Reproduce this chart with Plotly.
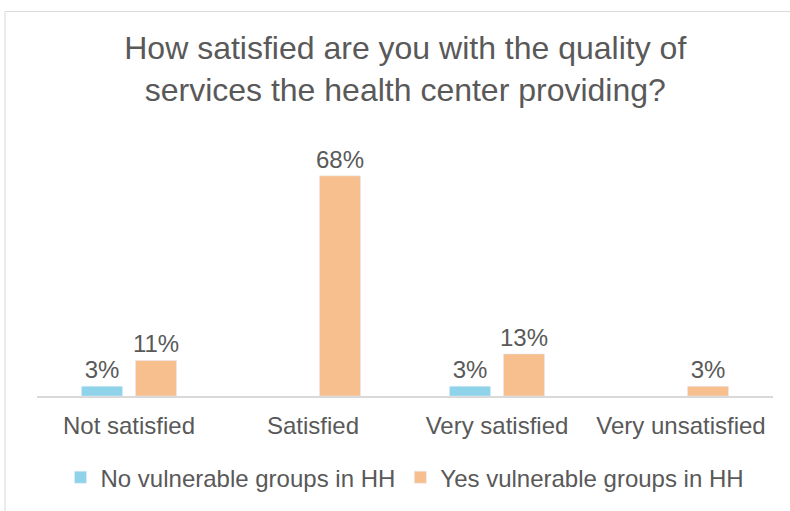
import plotly.graph_objects as go

# categories and series values (shares of respondents)
categories = ["Not satisfied", "Satisfied", "Very satisfied", "Very unsatisfied"]
no_vulnerable = [0.03, None, 0.03, None]
yes_vulnerable = [0.11, 0.68, 0.13, 0.03]
series_names = ["No vulnerable groups in HH", "Yes vulnerable groups in HH"]
title_text = "How satisfied are you with the quality of<br>services the health center providing?"

grey = "#595959"
font_family = "Liberation Sans, Arial, sans-serif"

fig = go.Figure()
fig.add_trace(go.Bar(
    x=categories, y=no_vulnerable, name=series_names[0],
    marker=dict(color="#8FD3EB"),
    texttemplate="%{y:.0%}", textposition="outside", constraintext="none",
    textfont=dict(size=24, color=grey), cliponaxis=False,
))
fig.add_trace(go.Bar(
    x=categories, y=yes_vulnerable, name=series_names[1],
    marker=dict(color="#F7BE8E"),
    texttemplate="%{y:.0%}", textposition="outside", constraintext="none",
    textfont=dict(size=24, color=grey), cliponaxis=False,
))

fig.update_layout(
    width=790, height=511,
    margin=dict(l=37, r=17, t=137, b=114),
    paper_bgcolor="white", plot_bgcolor="white",
    font=dict(family=font_family, color=grey, size=24),
    title=dict(text=title_text, x=0.513, xref="container", xanchor="center",
               y=1 - 59 / 511, yanchor="middle",
               font=dict(size=32, color=grey)),
    barmode="group", bargap=0.413, bargroupgap=0.24,
    showlegend=True,
    legend=dict(orientation="h", x=0.5, xanchor="center", y=-0.31, yanchor="middle",
                font=dict(size=24, color=grey), itemwidth=30),
    xaxis=dict(showline=True, linecolor="#D9D9D9", linewidth=1.5,
               ticks="outside", ticklen=7, tickcolor="rgba(0,0,0,0)",
               tickfont=dict(size=24, color=grey)),
    yaxis=dict(range=[0, 0.8], visible=False, showgrid=False),
    shapes=[dict(type="rect", xref="paper", yref="paper",
                 x0=-0.0435, x1=1.05, y0=-0.5, y1=1.4846,
                 line=dict(color="#D9D9D9", width=1))],
    hovermode=False,
)

# drop the default page margin so the chart sits at the window's top-left
fig.write_html("out.html", config={"displayModeBar": False},
               post_script="document.body.style.margin='0';")
